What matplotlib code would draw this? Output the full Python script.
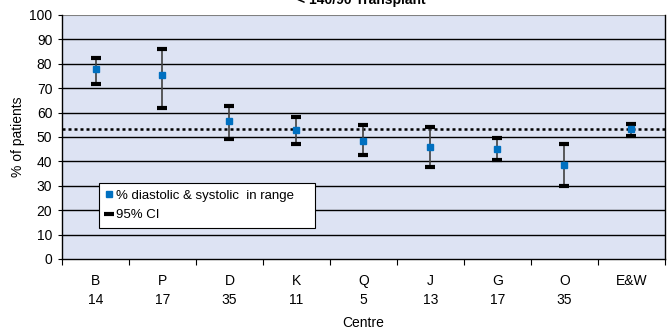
import matplotlib.pyplot as plt
import numpy as np
from matplotlib.lines import Line2D

plt.rcParams['font.family'] = ['Liberation Sans', 'DejaVu Sans']

# centre codes and patient counts
centres = ['B', 'P', 'D', 'K', 'Q', 'J', 'G', 'O', 'E&W']
counts = ['14', '17', '35', '11', '5', '13', '17', '35', '']
pctInRange = [77.7, 75.3, 56.4, 52.7, 48.2, 45.8, 45.0, 38.4, 53.2]
ciUpper = [82.5, 86.0, 62.7, 58.3, 55.0, 54.2, 49.7, 47.3, 55.5]
ciLower = [71.8, 61.9, 49.3, 47.3, 42.7, 37.8, 40.6, 30.0, 50.5]
nationalAvg = 53.2

fig = plt.figure(figsize=(6.69, 3.32), dpi=100)
ax = fig.add_axes([0.0927, 0.22, 0.901, 0.735])
ax.set_facecolor('#dde3f3')

x = np.arange(len(centres))
y = np.array(pctInRange)
lo = y - np.array(ciLower)
hi = np.array(ciUpper) - y

for v in range(10, 100, 10):
    ax.axhline(v, color='black', lw=1.0, zorder=1)
ax.axhline(nationalAvg, color='black', lw=1.8, ls=(0, (1.2, 1.2)), zorder=2)

ax.errorbar(x, y, yerr=[lo, hi], fmt='none', ecolor='#404040', elinewidth=1.2,
            capsize=3.3, capthick=2.6, zorder=3)
# caps in pure black drawn on top
ax.plot(x, ciUpper, ls='none', marker='_', ms=7, mew=3, color='black', zorder=4)
ax.plot(x, ciLower, ls='none', marker='_', ms=7, mew=3, color='black', zorder=4)
ax.plot(x, y, ls='none', marker='s', ms=5, color='#0070c0', zorder=5)

ax.set_xlim(-0.5, len(centres) - 0.5)
ax.set_ylim(0, 100)
ax.set_yticks(range(0, 101, 10))
ax.tick_params(axis='y', labelsize=10, length=3, width=0.8, pad=4)

ax.set_xticks(x)
ax.set_xticklabels([c + '\n' + n for c, n in zip(centres, counts)], fontsize=10,
                   linespacing=1.45)
ax.tick_params(axis='x', length=0, pad=11)
ax.set_xticks(np.arange(-0.5, len(centres), 1), minor=True)
ax.tick_params(axis='x', which='minor', length=4, width=0.8, direction='out')

ax.spines['top'].set_visible(False)
for s in ['left', 'right', 'bottom']:
    ax.spines[s].set_linewidth(1.0)
ax.axhline(100, color='#808080', lw=1.5, zorder=1)

ax.set_xlabel('Centre', fontsize=10)
ax.xaxis.set_label_coords(0.5, -0.235)
ax.set_ylabel('% of patients', fontsize=10)
ax.yaxis.set_label_coords(-0.062, 0.5)

fig.text(0.54, 1.0, '< 140/90 Transplant', fontsize=10, fontweight='bold',
         ha='center', va='center')

handles = [Line2D([], [], ls='none', marker='s', ms=5, color='#0070c0'),
           Line2D([], [], ls='none', marker='_', ms=7, mew=3, color='black')]
leg = ax.legend(handles, ['% diastolic & systolic  in range', '95% CI'],
                loc='lower left', bbox_to_anchor=(0.061, 0.127, 0.358, 0.2),
                mode='expand', fontsize=9.5, fancybox=False, edgecolor='black',
                framealpha=1, handlelength=0.5, handletextpad=0.3,
                borderaxespad=0, labelspacing=0.55, borderpad=0.5)
leg.get_frame().set_linewidth(0.8)

fig.savefig('out.png', dpi=100)
